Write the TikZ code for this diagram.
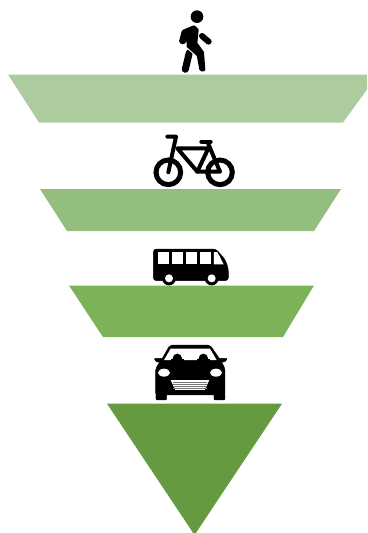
\documentclass[tikz,border=0pt]{standalone}
\usepackage{xcolor}
\definecolor{BandOne}{RGB}{174,203,160}
\definecolor{BandTwo}{RGB}{147,190,126}
\definecolor{BandThree}{RGB}{125,179,88}
\definecolor{BandFour}{RGB}{101,154,64}
\definecolor{GrilleLine}{RGB}{120,120,120}

\begin{document}
\begin{tikzpicture}[
    x=1pt, y=-1pt,
    icon/.style={fill=black, draw=black, line join=round},
    stroke/.style={draw=black, line cap=round, line join=round},
    hole/.style={fill=white},
    iconscale/.style={x=0.3333pt, y=-0.3333pt},
]
\useasboundingbox (0,0) rectangle (367,533);
\clip (0,0) rectangle (367,533);

% bands
\foreach \tl/\tr/\bl/\br/\ty/\by/\col in {
    8/378/39/343/74.5/122.5/BandOne,
    40/341/67/314/189/231/BandTwo,
    69/314/103/283/285.5/337/BandThree}
    \fill[\col] (\tl,\ty) -- (\tr,\ty) -- (\br,\by) -- (\bl,\by) -- cycle;
\fill[BandFour] (107,403.7) -- (282,403.7) -- (194.5,535) -- cycle;

% walker
\begin{scope}[shift={(140,0)}, iconscale]
    \fill[black] (171,50) circle (19);
    \fill[icon, line width=4pt] (162,82) -- (131,95) -- (123,125) -- (130,127) -- (146,105)
        -- (146,140) -- (176,165) -- (184,208) -- (190,208) -- (186,158) -- (166,130) -- (170,90) -- cycle;
    \draw[stroke, line width=7pt] (148,158) -- (136,208);
    \draw[stroke, line width=6pt] (186,108) -- (206,125);
    \draw[white, line width=0.9pt] (140,143) -- (168,168);
\end{scope}

% bike
\begin{scope}[shift={(140,125)}, iconscale]
    \foreach \cx in {85,240}
        \draw[black, line width=5pt] (\cx,142) circle (37);
    \draw[stroke, line width=4pt] (82,35) -- (108,35) -- (85,142);
    \draw[stroke, line width=4pt] (112,70) -- (205,70) -- (172,140) -- cycle;
    \draw[stroke, line width=4pt] (172,140) -- (240,140) -- (203,52);
    \draw[stroke, line width=4pt] (184,50) -- (212,50);
\end{scope}

% bus
\begin{scope}[shift={(140,240)}, iconscale]
    \fill[icon, rounded corners=3pt] (40,27) -- (228,27) -- (255,58) -- (265,85) -- (265,122) -- (40,122) -- cycle;
    \foreach \wx in {53,95,137,180}
        \fill[hole] (\wx,36) rectangle ++(33,37);
    \fill[hole] (222,36) -- (232,36) -- (251,73) -- (222,73) -- cycle;
    \foreach \wx in {87,215} {
        \fill[black] (\wx,115) circle (21);
        \fill[hole] (\wx,115) circle (12);
    }
\end{scope}

% car
\begin{scope}[shift={(140,340)}, iconscale]
    \fill[icon, rounded corners=2pt] (90,15) -- (210,15) -- (240,58) -- (255,85) -- (255,165) -- (47,165) -- (47,85) -- (65,58) -- cycle;
    \fill[icon, rounded corners=1pt] (42,55) -- (68,55) -- (65,68) -- (48,65) -- cycle;
    \fill[icon, rounded corners=1pt] (234,55) -- (262,55) -- (256,65) -- (238,68) -- cycle;
    \fill[icon, rounded corners=1pt] (48,160) rectangle (80,180);
    \fill[icon, rounded corners=1pt] (222,160) rectangle (255,180);
    \fill[hole] (92,26) -- (210,26) -- (230,60) -- (72,60) -- cycle;
    \foreach \sx in {112,190} {
        \fill[black] (\sx,55) circle (14);
        \fill[black] (\sx-20,64) rectangle (\sx+20,56);
    }
    \fill[hole] (72,98) ellipse (18 and 12);
    \fill[hole] (228,98) ellipse (18 and 12);
    \fill[hole] (92,120) -- (208,120) -- (194,150) -- (106,150) -- cycle;
    \foreach \gy in {126,133,140,146}
        \draw[GrilleLine, line width=0.8pt] (100,\gy) -- (200,\gy);
\end{scope}
\end{tikzpicture}
\end{document}
